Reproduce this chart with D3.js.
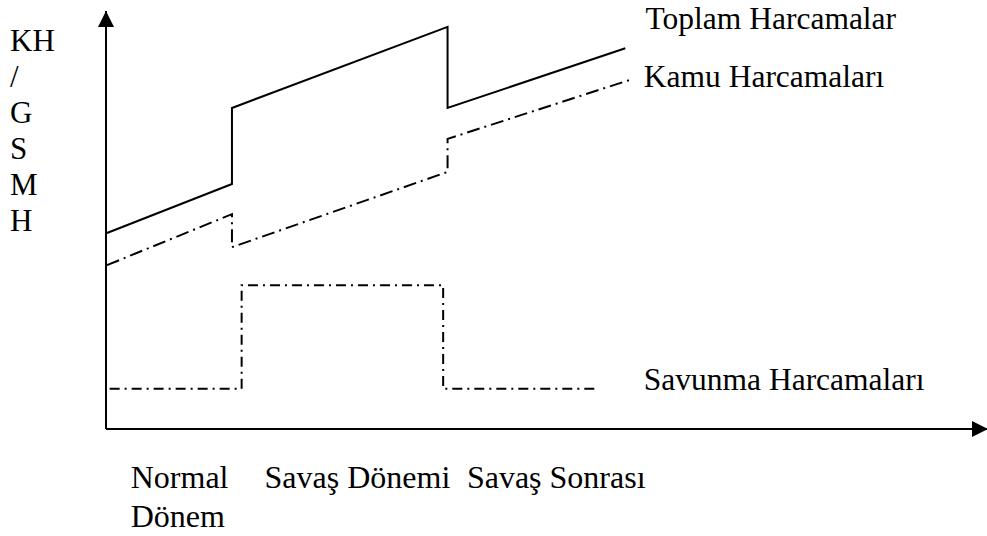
<!DOCTYPE html>
<html>
<head>
<meta charset="utf-8">
<script src="https://cdn.jsdelivr.net/npm/d3@7"></script>
<style>
  body { margin: 0; background: #fff; }
  text { font-family: "Liberation Serif", "Times New Roman", serif; fill: #000; }
</style>
</head>
<body>
<div id="chart"></div>
<script>
// values (arbitrary units, time on x, share of GDP on y)
var toplamX = [0, 1.42, 1.42, 3.87, 3.87, 5.89];
var toplamY = [4.69, 5.86, 7.68, 9.62, 7.68, 9.11];
var kamuX = [0, 1.42, 1.42, 3.87, 3.87, 5.94];
var kamuY = [3.92, 5.14, 4.35, 6.15, 6.94, 8.35];
var savunmaX = [0.03, 1.53, 1.53, 3.82, 3.82, 5.58];
var savunmaY = [0.96, 0.96, 3.44, 3.44, 0.96, 0.96];

var seriesNames = ["Toplam Harcamalar", "Kamu Harcamaları", "Savunma Harcamaları"];
var periodNames = [["Normal", "Dönem"], ["Savaş Dönemi"], ["Savaş Sonrası"]];
var periodPos = [0.27, 1.79, 4.09];
var yLabel = ["KH", "/", "G", "S", "M", "H"];

var width = 987, height = 536;
var margin = { top: 11, right: 0, bottom: 107, left: 107 };

var svg = d3.select("#chart")
	.append("svg")
	.attr("width", width)
	.attr("height", height);

// scales
var x = d3.scaleLinear()
	.domain([0, 10])
	.range([margin.left, width - margin.right]);

var y = d3.scaleLinear()
	.domain([0, 10])
	.range([height - margin.bottom, margin.top]);

// arrow heads
var defs = svg.append("defs");
defs.append("marker")
	.attr("id", "arrow")
	.attr("viewBox", "0 0 10 10")
	.attr("refX", 10)
	.attr("refY", 5)
	.attr("markerWidth", 8)
	.attr("markerHeight", 8)
	.attr("markerUnits", "strokeWidth")
	.attr("orient", "auto")
	.append("path")
	.attr("d", "M0,0 L10,5 L0,10 Z")
	.attr("fill", "#000");

// axes
svg.append("line")
	.attr("x1", x(0) - 1).attr("y1", y(0))
	.attr("x2", x(0) - 1).attr("y2", y(10))
	.attr("stroke", "#000")
	.attr("stroke-width", 2)
	.attr("marker-end", "url(#arrow)");

svg.append("line")
	.attr("x1", x(0) - 1).attr("y1", y(0))
	.attr("x2", x(10) + 1).attr("y2", y(0))
	.attr("stroke", "#000")
	.attr("stroke-width", 2)
	.attr("marker-end", "url(#arrow)");

// lines
var line = d3.line()
	.x(function(d) { return x(d[0]); })
	.y(function(d) { return y(d[1]); });

var series = [
	{ xs: toplamX, ys: toplamY, dash: null },
	{ xs: kamuX, ys: kamuY, dash: "13,5,2,5" },
	{ xs: savunmaX, ys: savunmaY, dash: "10,5,2,5" }
];

series.forEach(function(s) {
	var pts = s.xs.map(function(v, i) { return [v, s.ys[i]]; });
	svg.append("path")
		.datum(pts)
		.attr("d", line)
		.attr("fill", "none")
		.attr("stroke", "#000")
		.attr("stroke-width", 2)
		.attr("stroke-dasharray", s.dash);
});

// series labels
var labelPos = [[6.12, 9.56], [6.10, 8.18], [6.10, 0.93]];
seriesNames.forEach(function(n, i) {
	svg.append("text")
		.attr("x", x(labelPos[i][0]))
		.attr("y", y(labelPos[i][1]))
		.style("font-size", "31.5px")
		.text(n);
});

// period labels
periodNames.forEach(function(lines, i) {
	lines.forEach(function(t, j) {
		svg.append("text")
			.attr("x", x(periodPos[i]))
			.attr("y", 488 + j * 39)
			.style("font-size", "32px")
			.text(t);
	});
});

// y label stacked
yLabel.forEach(function(t, i) {
	svg.append("text")
		.attr("x", 10)
		.attr("y", 51 + i * 36)
		.style("font-size", "31px")
		.text(t);
});
</script>
</body>
</html>
